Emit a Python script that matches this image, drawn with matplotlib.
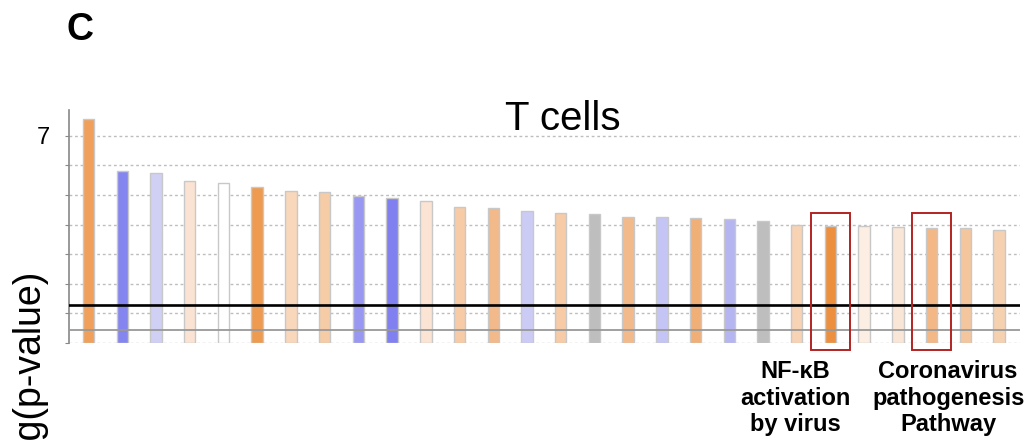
import matplotlib
matplotlib.use("Agg")
import matplotlib.pyplot as plt
from matplotlib.patches import Rectangle
from matplotlib.transforms import blended_transform_factory

plt.rcParams['font.family'] = ['Liberation Sans', 'DejaVu Sans']

# -log10(p-value) per pathway, sorted
values = [7.56, 5.81, 5.73, 5.48, 5.41, 5.28, 5.12, 5.09, 4.97, 4.89,
          4.80, 4.58, 4.55, 4.45, 4.38, 4.36, 4.27, 4.27, 4.22, 4.20,
          4.12, 3.99, 3.96, 3.95, 3.91, 3.90, 3.87, 3.82]
# activation z-score colouring (orange = up, blue = down, grey = no score)
colors = ['#F0A05A', '#8585F0', '#D0D0F5', '#FAE3D3', '#FFFFFF', '#EE9A50',
          '#F8D7BB', '#F6CCA6', '#9898F2', '#8080F0', '#FBE4D4', '#F6CBA5',
          '#F2B98A', '#CBCBF5', '#F6CBA5', '#BEBEBE', '#F2B98A', '#C4C4F5',
          '#F0AF76', '#B5B5F2', '#BEBEBE', '#F7D3B3', '#EC8F3E', '#FCEEE2',
          '#FAE6D7', '#F3B886', '#F4C69E', '#F6D1B0']
threshold = 1.3
ratio_line = 0.44
highlight = {22: 'NF-\u03baB\nactivation\nby virus',
             25: 'Coronavirus\npathogenesis\nPathway'}
label_x = {22: 20.95, 25: 25.49}

W, H = 1030, 441
fig = plt.figure(figsize=(W / 100, H / 100), dpi=100)
ax = fig.add_axes([69 / W, 1 - 343 / H, (1020 - 69) / W, (343 - 110) / H])

x = list(range(len(values)))
ax.bar(x, values, width=0.34, color=colors, edgecolor='#C8C8C8',
       linewidth=1.0, zorder=3)

ax.set_xlim(-0.58, 27.62)
ax.set_ylim(0, 7.87)
ax.set_yticks(range(0, 8))
ax.set_yticklabels(['', '', '', '', '', '', '', '7'], fontsize=17)
ax.tick_params(axis='y', length=3, color='#888888', pad=11)
ax.set_xticks([])
for s in ['top', 'right', 'bottom']:
    ax.spines[s].set_visible(False)
ax.spines['left'].set_color('#888888')
ax.spines['left'].set_linewidth(1.2)

for yv in range(0, 8):
    ax.axhline(yv, color='#BDBDBD', linewidth=1.0, linestyle=(0, (2, 2)),
               zorder=1)

ax.axhline(ratio_line, color='#999999', linewidth=1.3, zorder=4)
ax.axhline(threshold, color='black', linewidth=1.9, zorder=5)

# highlight boxes around selected pathways
for i in highlight:
    ax.add_patch(Rectangle((i - 0.57, -0.24), 1.14, 4.63, fill=False,
                           edgecolor='#B22222', linewidth=1.4,
                           clip_on=False, zorder=6))

trans = blended_transform_factory(ax.transData, fig.transFigure)
for i, txt in highlight.items():
    ax.text(label_x[i], 1 - 360 / H, txt, transform=trans, ha='center',
            va='top', fontsize=17, fontweight='bold', linespacing=1.2)

fig.text(563 / W, 1 - 130 / H, 'T cells', ha='center', va='baseline',
         fontsize=29)
fig.text(67 / W, 1 - 40 / H, 'C', ha='left', va='baseline',
         fontsize=27, fontweight='bold')
fig.text(29 / W, 1 - 270 / H, '-log(p-value)', rotation=90, ha='center',
         va='top', fontsize=27)

fig.savefig('out.png', dpi=100)
